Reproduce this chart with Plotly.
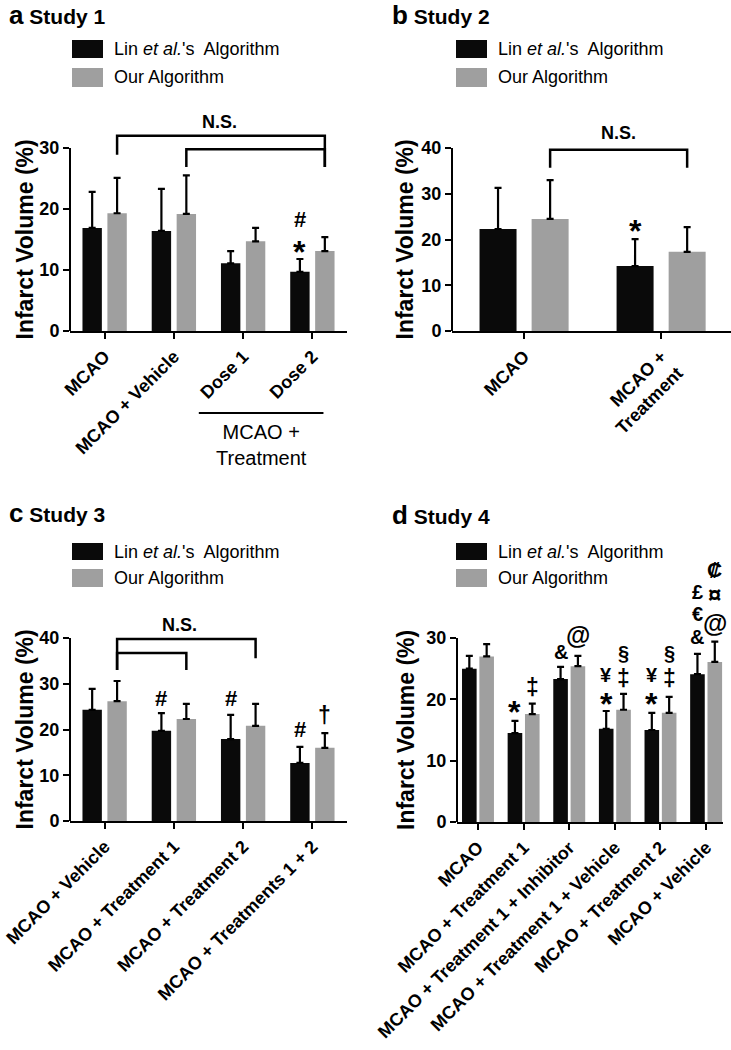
import plotly.graph_objects as go

W, H = 731, 1050
BLACK = "#0a0a0a"
GRAY = "#9f9f9f"
FONT = "Arial, Liberation Sans, Helvetica, sans-serif"

# ---------------- data ----------------
a_cats = ["MCAO", "MCAO + Vehicle", "Dose 1", "Dose 2"]
a_lin = [16.9, 16.4, 11.1, 9.7]
a_lin_err = [5.9, 6.9, 2.0, 2.1]
a_our = [19.3, 19.2, 14.7, 13.1]
a_our_err = [5.8, 6.3, 2.2, 2.3]

b_cats = ["MCAO", "MCAO +<br>Treatment"]
b_lin = [22.3, 14.2]
b_lin_err = [9.0, 5.9]
b_our = [24.5, 17.3]
b_our_err = [8.5, 5.4]

c_cats = ["MCAO + Vehicle", "MCAO + Treatment 1", "MCAO + Treatment 2",
          "MCAO + Treatments 1 + 2"]
c_lin = [24.3, 19.7, 17.9, 12.7]
c_lin_err = [4.6, 3.9, 5.3, 3.5]
c_our = [26.2, 22.3, 20.8, 16.0]
c_our_err = [4.4, 3.3, 4.8, 3.2]

d_cats = ["MCAO", "MCAO + Treatment 1", "MCAO + Treatment 1 + Inhibitor",
          "MCAO + Treatment 1 + Vehicle", "MCAO + Treatment 2", "MCAO + Vehicle"]
d_lin = [25.0, 14.5, 23.3, 15.2, 15.0, 24.1]
d_lin_err = [2.1, 2.0, 2.0, 2.9, 2.8, 3.3]
d_our = [27.0, 17.6, 25.4, 18.3, 17.8, 26.1]
d_our_err = [2.0, 1.7, 1.7, 2.6, 2.6, 3.3]

series_names = ["Lin et al.'s Algorithm", "Our Algorithm"]
y_ticks_30 = [0, 10, 20, 30]
y_ticks_40 = [0, 10, 20, 30, 40]

# significance symbols: (category index, series 0=Lin / 1=Our, symbol, level, size)
a_marks = [(3, 0, "#", 18.2, 22), (3, 0, "*", 12.9, 32)]
b_marks = [(1, 0, "*", 21.9, 32)]
c_marks = [(1, 0, "#", 26.7, 22), (2, 0, "#", 26.7, 22), (3, 0, "#", 20.1, 22),
           (3, 1, "†", 23.2, 23)]
d_marks = [(1, 0, "*", 17.9, 32), (1, 1, "‡", 22.0, 23),
           (2, 0, "&", 27.7, 20), (2, 1, "@", 30.5, 25),
           (3, 0, "*", 19.2, 32), (3, 0, "¥", 24.0, 20), (3, 1, "‡", 23.5, 23), (3, 1, "§", 27.5, 20),
           (4, 0, "*", 19.2, 32), (4, 0, "¥", 24.0, 20), (4, 1, "‡", 23.5, 23), (4, 1, "§", 27.5, 20),
           (5, 0, "&", 30.2, 20), (5, 0, "€", 33.9, 20), (5, 0, "£", 37.5, 20),
           (5, 1, "@", 32.5, 25), (5, 1, "¤", 37.1, 24), (5, 1, "₡", 41.1, 21)]

# comparison brackets: ((cat, series) left, (cat, series) right, top level, left end, right end)
a_brackets = [((0, 1), (3, 1), 32.0, 28.9, 26.9), ((1, 1), (3, 1), 29.8, 26.9, 26.9)]
b_brackets = [((0, 1), (1, 1), 39.6, 35.7, 35.7)]
c_brackets = [((0, 1), (2, 1), 39.8, 33.0, 35.6), ((0, 1), (1, 1), 36.7, 33.0, 33.0)]
a_ns = (1.66, 34.3)
b_ns = (0.69, 43.3)
c_ns = (1.08, 42.8)

# ---------------- panel geometry (pixels) ----------------
panels = [
    dict(letter="a", title="Study 1", cats=a_cats, lin=a_lin, lin_err=a_lin_err,
         our=a_our, our_err=a_our_err, marks=a_marks, brackets=a_brackets, ns=a_ns,
         xpx=(70, 347), xr=(-0.5, 3.5), y0px=331, ppu=6.1, ymax=37, ticks=y_ticks_30,
         bw=0.28, offs=(-0.32, 0.04), title_px=(7, 15), leg_px=(72, 103, 40, 58, 68, 87),
         ytitle_x=24),
    dict(letter="b", title="Study 2", cats=b_cats, lin=b_lin, lin_err=b_lin_err,
         our=b_our, our_err=b_our_err, marks=b_marks, brackets=b_brackets, ns=b_ns,
         xpx=(452, 731), xr=(-0.526, 1.51), y0px=331, ppu=4.575, ymax=46, ticks=y_ticks_40,
         bw=0.27, offs=(-0.325, 0.055), title_px=(390, 15), leg_px=(456, 487, 40, 58, 68, 87),
         ytitle_x=404),
    dict(letter="c", title="Study 3", cats=c_cats, lin=c_lin, lin_err=c_lin_err,
         our=c_our, our_err=c_our_err, marks=c_marks, brackets=c_brackets, ns=c_ns,
         xpx=(70, 347), xr=(-0.5, 3.5), y0px=821, ppu=4.575, ymax=46, ticks=y_ticks_40,
         bw=0.28, offs=(-0.32, 0.04), title_px=(7, 513), leg_px=(72, 103, 543, 560, 569, 587),
         ytitle_x=24),
    dict(letter="d", title="Study 4", cats=d_cats, lin=d_lin, lin_err=d_lin_err,
         our=d_our, our_err=d_our_err, marks=d_marks, brackets=[], ns=None,
         xpx=(457, 723), xr=(-0.46, 5.37), y0px=822, ppu=6.133, ymax=43, ticks=y_ticks_30,
         bw=0.32, offs=(-0.35, 0.03), title_px=(390, 515), leg_px=(456, 487, 543, 560, 569, 587),
         ytitle_x=406),
]


def px_x(x):
    return x / W


def px_y(y):
    return 1 - y / H


fig = go.Figure()
shapes = []
annotations = []
layout_axes = {}

for i, p in enumerate(panels, start=1):
    sx = "" if i == 1 else str(i)
    xa, ya = "x" + sx, "y" + sx
    n = len(p["cats"])
    xs = list(range(n))
    centers = [p["offs"][0] + p["bw"] / 2, p["offs"][1] + p["bw"] / 2]

    for k, (vals, errs, col) in enumerate([(p["lin"], p["lin_err"], BLACK),
                                           (p["our"], p["our_err"], GRAY)]):
        fig.add_trace(go.Bar(
            x=xs, y=vals, width=p["bw"], offset=p["offs"][k],
            marker=dict(color=col, line=dict(width=0)),
            error_y=dict(type="data", symmetric=False, array=errs,
                         arrayminus=[0] * n, color="black", thickness=2.2, width=3.5),
            name=series_names[k], showlegend=False,
            xaxis=xa, yaxis=ya, hoverinfo="skip"))

    top_px = p["y0px"] - p["ymax"] * p["ppu"]
    layout_axes["xaxis" + sx] = dict(
        domain=[px_x(p["xpx"][0]), px_x(p["xpx"][1])], range=list(p["xr"]),
        anchor=ya, showline=True, linecolor="black", linewidth=2,
        ticks="outside", ticklen=6, tickwidth=2, tickcolor="black",
        tickvals=xs, ticktext=p["cats"], tickangle=-45, ticklabeloverflow="allow",
        tickfont=dict(family=FONT, size=18, color="black", weight=700),
        showgrid=False, zeroline=False, automargin=False, fixedrange=True)
    layout_axes["yaxis" + sx] = dict(
        domain=[px_y(p["y0px"]), px_y(top_px)], range=[0, p["ymax"]],
        anchor=xa, showline=False, ticks="outside", ticklen=6, tickwidth=2,
        tickcolor="black", tickvals=p["ticks"], ticklabeloverflow="allow",
        tickfont=dict(family=FONT, size=18, color="black", weight=700),
        showgrid=False, zeroline=False, automargin=False, fixedrange=True)

    # y axis line limited to the labelled range
    shapes.append(dict(type="line", xref=xa + " domain", x0=0, x1=0, yref=ya,
                       y0=0, y1=p["ticks"][-1], line=dict(color="black", width=2)))

    # brackets
    for (l, r, top, le, re) in p["brackets"]:
        xl = l[0] + centers[l[1]]
        xr_ = r[0] + centers[r[1]]
        shapes.append(dict(type="path", xref=xa, yref=ya,
                           path=f"M{xl},{le} L{xl},{top} L{xr_},{top} L{xr_},{re}",
                           line=dict(color="black", width=2.5)))
    if p["ns"]:
        annotations.append(dict(x=p["ns"][0], y=p["ns"][1], xref=xa, yref=ya, text="N.S.",
                                xanchor="center", yanchor="middle", showarrow=False,
                                font=dict(family=FONT, size=18, color="black", weight=700)))

    # significance symbols
    for (ci, s, sym, lvl, fs) in p["marks"]:
        annotations.append(dict(x=ci + centers[s], y=lvl, xref=xa, yref=ya, text=sym,
                                showarrow=False, xanchor="center", yanchor="middle",
                                font=dict(family=FONT, size=fs, color="black", weight=700)))

    # y-axis title
    annotations.append(dict(x=px_x(p["ytitle_x"]), y=p["ticks"][-1] / 2, xref="paper", yref=ya,
                            text="Infarct Volume (%)", textangle=-90, showarrow=False,
                            xanchor="center", yanchor="middle",
                            font=dict(family=FONT, size=23, color="black", weight=700)))

    # panel title
    annotations.append(dict(x=px_x(p["title_px"][0]), y=px_y(p["title_px"][1]), xref="paper",
                            yref="paper", xanchor="left", yanchor="middle", showarrow=False,
                            text=f"<span style='font-size:26px'>{p['letter']}</span> Study {p['title'][-1]}",
                            font=dict(family=FONT, size=21, color="black", weight=700)))

    # legend
    lx0, lx1, by0, by1, gy0, gy1 = p["leg_px"]
    for (y0, y1, col, txt) in [(by0, by1, BLACK, "Lin <i>et al.</i>'s  Algorithm"),
                               (gy0, gy1, GRAY, "Our Algorithm")]:
        shapes.append(dict(type="rect", xref="paper", yref="paper",
                           x0=px_x(lx0), x1=px_x(lx1), y0=px_y(y1), y1=px_y(y0),
                           fillcolor=col, line=dict(width=0)))
        annotations.append(dict(x=px_x(lx1 + 9), y=px_y((y0 + y1) / 2), xref="paper",
                                yref="paper", xanchor="left", yanchor="middle",
                                showarrow=False, text=txt,
                                font=dict(family=FONT, size=18, color="black")))

# panel a: group label under Dose 1 / Dose 2
shapes.append(dict(type="line", xref="x", yref="paper", x0=1.36, x1=3.16,
                   y0=px_y(413), y1=px_y(413), line=dict(color="black", width=2)))
annotations.append(dict(x=2.26, y=px_y(445), xref="x", yref="paper", showarrow=False,
                        xanchor="center", yanchor="middle",
                        text="MCAO +<br>Treatment",
                        font=dict(family=FONT, size=20, color="black")))

fig.update_layout(
    width=W, height=H, autosize=False,
    margin=dict(l=0, r=0, t=0, b=0),
    paper_bgcolor="white", plot_bgcolor="white",
    showlegend=False,
    shapes=shapes, annotations=annotations,
    font=dict(family=FONT, color="black"),
    **layout_axes,
)

fig.write_html("out.html", config={"displayModeBar": False, "staticPlot": True},
               post_script="document.body.style.margin='0';document.body.style.overflow='hidden';")
